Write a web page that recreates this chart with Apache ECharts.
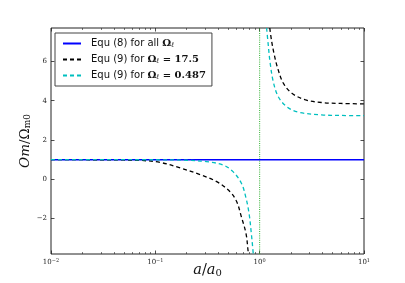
<!DOCTYPE html>
<html><head><meta charset="utf-8">
<script src="https://cdn.jsdelivr.net/npm/echarts@6/dist/echarts.min.js"></script>
<style>html,body{margin:0;padding:0;background:#fff}#c{width:405px;height:283px}</style>
</head><body><div id="c"></div>
<script>
// ---- data ----
const seriesNames = ['Equ (8) for all Ωℓ', 'Equ (9) for Ωℓ = 17.5', 'Equ (9) for Ωℓ = 0.487'];
const blueLine = [[0.01, 1], [10, 1]];
const blackLower = [[0.01,1.0],[0.03,0.995],[0.05,0.985],[0.072,0.965],[0.111,0.86],[0.173,0.58],[0.268,0.24],[0.388,-0.12],[0.52,-0.63],[0.603,-1.14],[0.668,-1.91],[0.74,-2.76],[0.773,-3.6],[0.78,-3.8]];
const blackUpper = [[1.25,7.7],[1.303,7.02],[1.38,6.34],[1.487,5.66],[1.682,4.9],[2.024,4.39],[2.714,4.05],[3.92,3.91],[6,3.86],[10,3.84]];
const cyanLower = [[0.01,1.0],[0.1,0.995],[0.2,0.97],[0.309,0.9],[0.446,0.73],[0.555,0.39],[0.668,-0.2],[0.735,-0.89],[0.791,-1.73],[0.832,-2.76],[0.862,-3.6],[0.868,-3.8]];
const cyanUpper = [[1.165,7.7],[1.208,6.85],[1.255,6.0],[1.349,4.98],[1.507,4.21],[1.812,3.70],[2.339,3.42],[3.92,3.28],[6,3.25],[10,3.24]];
const verticalLine = [[1, -3.8], [1, 7.7]];
const xMajorTicks = [0.01, 0.1, 1, 10];
const xMinorTicks = [0.02,0.03,0.04,0.05,0.06,0.07,0.08,0.09,0.2,0.3,0.4,0.5,0.6,0.7,0.8,0.9,2,3,4,5,6,7,8,9];
const yTicks = [-2, 0, 2, 4, 6];

const legendRich = {
  [seriesNames[0]]: 'Equ (8) for all {m|Ω}{sb|ℓ}',
  [seriesNames[1]]: 'Equ (9) for {m|Ω}{sb|ℓ}{m| = 17.5}',
  [seriesNames[2]]: 'Equ (9) for {m|Ω}{sb|ℓ}{m| = 0.487}'
};

const chart = echarts.init(document.getElementById('c'), null, {renderer: 'canvas'});
const frame = '#222';

function xAxisBase(extra) {
  return Object.assign({
    type: 'log', min: 0.01, max: 10, logBase: 10,
    axisLine: {show: false, onZero: false}, splitLine: {show: false},
    axisLabel: {show: false}
  }, extra);
}

const option = {
  animation: false,
  backgroundColor: '#fff',
  grid: {left: 51, right: 41, top: 28, bottom: 29, show: true, borderColor: frame, borderWidth: 1,
         backgroundColor: 'transparent', outerBoundsMode: 'none', containLabel: false},
  legend: {
    data: seriesNames,
    orient: 'vertical', left: 55, top: 33,
    padding: [5, 6, 5, 7],
    itemGap: 5, itemWidth: 18, itemHeight: 11,
    backgroundColor: '#fff', borderColor: '#444', borderWidth: 1,
    itemStyle: {opacity: 0},
    formatter: n => legendRich[n],
    textStyle: {
      fontFamily: 'DejaVu Sans', fontSize: 10, color: '#111', lineHeight: 11, padding: [0, 0, 0, 5],
      rich: {
        m: {fontFamily: 'DejaVu Serif', fontSize: 10, fontWeight: 'bold', color: '#111', lineHeight: 11},
        sb: {fontFamily: 'DejaVu Serif', fontSize: 7, fontStyle: 'italic', color: '#111', verticalAlign: 'bottom', lineHeight: 11, padding: [3, 0, 0, 0]}
      }
    }
  },
  xAxis: [
    xAxisBase({
      position: 'bottom',
      axisTick: {show: true, inside: true, length: 3.5, lineStyle: {color: frame, width: 0.8}},
      axisLabel: {
        show: true, margin: 4,
        formatter: v => '10{s|' + String(Math.round(Math.log10(v))).replace('-', '−') + '}',
        fontFamily: 'DejaVu Serif', fontSize: 7, color: '#222',
        rich: {s: {fontFamily: 'DejaVu Serif', fontSize: 5, color: '#222', verticalAlign: 'top', padding: [0,0,3,0]}}
      },
      name: '{i|a}{n|/}{i|a}{sb|0}', nameLocation: 'middle', nameGap: 9, nameMoveOverlap: false,
      nameTextStyle: {
        rich: {
          i: {fontFamily: 'DejaVu Serif', fontStyle: 'italic', fontSize: 14.5, color: '#111'},
          n: {fontFamily: 'DejaVu Serif', fontSize: 14.5, color: '#111'},
          sb: {fontFamily: 'DejaVu Serif', fontSize: 10, color: '#111', verticalAlign: 'bottom', padding: [5,0,0,0]}
        }
      }
    }),
    xAxisBase({position: 'bottom', axisTick: {show: true, inside: true, length: 2, customValues: xMinorTicks, lineStyle: {color: frame, width: 0.6}}}),
    xAxisBase({position: 'top', axisTick: {show: true, inside: true, length: 3.5, customValues: xMajorTicks, lineStyle: {color: frame, width: 0.8}}}),
    xAxisBase({position: 'top', axisTick: {show: true, inside: true, length: 2, customValues: xMinorTicks, lineStyle: {color: frame, width: 0.6}}})
  ],
  yAxis: [
    {
      type: 'value', min: -3.8, max: 7.7, position: 'left',
      axisLine: {show: false, onZero: false}, splitLine: {show: false},
      axisTick: {show: true, inside: true, length: 3.5, customValues: yTicks, lineStyle: {color: frame, width: 0.8}},
      axisLabel: {show: true, customValues: yTicks, margin: 4, formatter: v => String(v).replace('-', '−'), fontFamily: 'DejaVu Serif', fontSize: 7, color: '#222'},
      name: '{i|Om}{n|/}{o|Ω}{sb|m0}', nameLocation: 'middle', nameGap: 19, nameRotate: 90, nameMoveOverlap: false,
      nameTextStyle: {
        rich: {
          i: {fontFamily: 'DejaVu Serif', fontStyle: 'italic', fontSize: 13.5, color: '#111'},
          n: {fontFamily: 'DejaVu Serif', fontSize: 13.5, color: '#111'},
          o: {fontFamily: 'DejaVu Serif', fontSize: 13.5, color: '#111'},
          sb: {fontFamily: 'DejaVu Serif', fontSize: 9, color: '#111', verticalAlign: 'bottom', padding: [5,0,0,0]}
        }
      }
    },
    {
      type: 'value', min: -3.8, max: 7.7, position: 'right',
      axisLine: {show: false, onZero: false}, splitLine: {show: false}, axisLabel: {show: false},
      axisTick: {show: true, inside: true, length: 3.5, customValues: yTicks, lineStyle: {color: frame, width: 0.8}}
    }
  ],
  series: [
    {
      type: 'line', name: 'a = a0 marker', data: verticalLine, symbol: 'none', silent: true,
      color: '#2fb02f', lineStyle: {color: '#2fb02f', width: 1, type: [1, 1.2]}
    },
    {
      type: 'line', name: seriesNames[0], data: blueLine, symbol: 'none',
      color: '#0000ff', lineStyle: {color: '#0000ff', width: 1.5}
    },
    {type: 'line', name: seriesNames[1], data: blackLower, symbol: 'none', smooth: 0.35, color: '#000', lineStyle: {color: '#000', width: 1.3, type: [4, 3]}},
    {type: 'line', name: seriesNames[1], data: blackUpper, symbol: 'none', smooth: 0.35, color: '#000', lineStyle: {color: '#000', width: 1.3, type: [4, 3]}},
    {type: 'line', name: seriesNames[2], data: cyanLower, symbol: 'none', smooth: 0.35, color: '#00bfbf', lineStyle: {color: '#00bfbf', width: 1.3, type: [4, 3]}},
    {type: 'line', name: seriesNames[2], data: cyanUpper, symbol: 'none', smooth: 0.35, color: '#00bfbf', lineStyle: {color: '#00bfbf', width: 1.3, type: [4, 3]}}
  ]
};
chart.setOption(option);
</script></body></html>
